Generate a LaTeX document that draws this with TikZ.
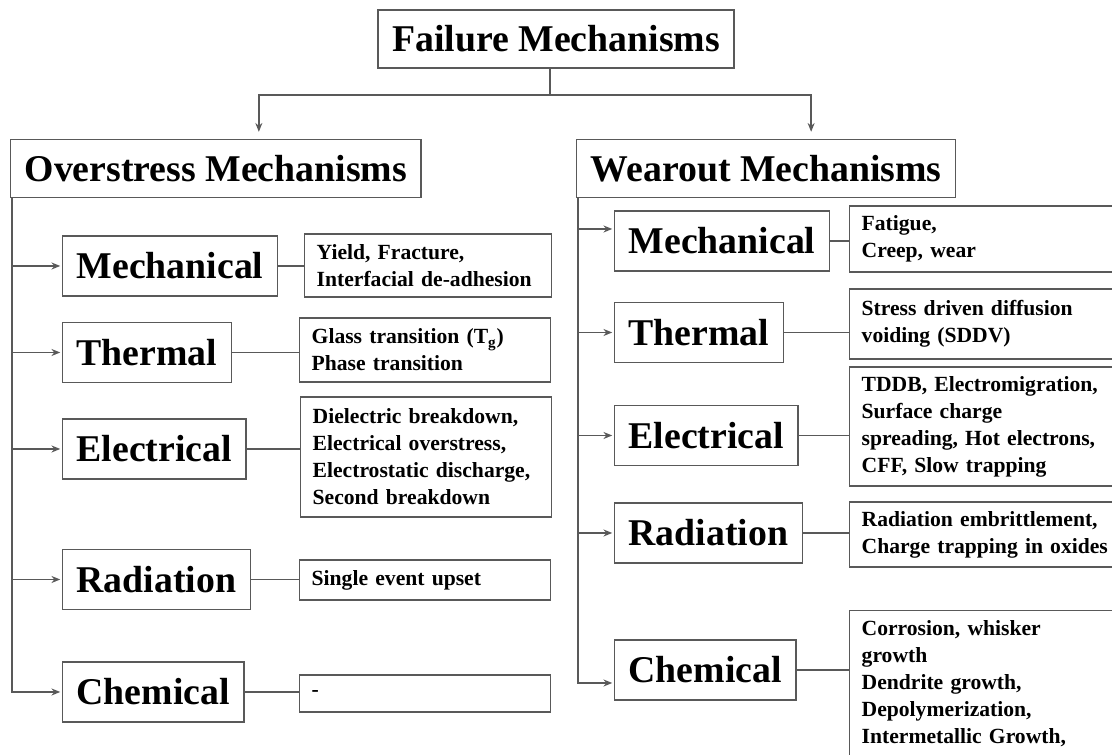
\documentclass[tikz,border=0pt]{standalone}
\usepackage{fontspec}
\setmainfont{Liberation Serif}
\usetikzlibrary{arrows.meta,calc}

\begin{document}
\begin{tikzpicture}[
    head/.style={draw=black!65, line width=0.8pt, font=\fontsize{21.5}{24}\selectfont\bfseries, inner xsep=0.28cm, minimum height=1.16cm},
    cat/.style={head, anchor=west, minimum height=1.2cm},
    desc/.style={draw=black!65, line width=0.8pt, font=\fontsize{12.3}{15.4}\selectfont\bfseries, align=left, inner xsep=0.24cm, anchor=west},
    ldesc/.style={desc, text width=4.54cm},
    rdesc/.style={desc, text width=5.3cm},
    link/.style={black!65, line width=0.8pt},
    arr/.style={link, -{Stealth[length=5pt,width=4pt]}, shorten >=1pt}]
  \path[use as bounding box, clip] (0,0) rectangle (22.24,15.1);
  \node[head] (fm) at (11.12,14.32) {Failure Mechanisms};
  \node[head, anchor=west] (os) at (0.2,11.73) {Overstress Mechanisms};
  \node[head, anchor=west] (wm) at (11.52,11.73) {Wearout Mechanisms};
  \coordinate (split) at (11.0,13.2);
  \draw[link] (split |- fm.south) -- (split);
  \draw[arr, shorten >=0.14cm] (split) -| ([xshift=0.86cm]os.north);
  \draw[arr, shorten >=0.14cm] (split) -| ([xshift=0.9cm]wm.north);
  % overstress side
  \node[cat] (lmech) at (1.24,9.78) {Mechanical};
  \node[cat] (lther) at (1.24,8.05) {Thermal};
  \node[cat] (lelec) at (1.24,6.12) {Electrical};
  \node[cat] (lrad) at (1.24,3.51) {Radiation};
  \node[cat] (lchem) at (1.24,1.26) {Chemical};
  \node[ldesc, text width=4.46cm, minimum height=1.26cm] (lmech-d) at (6.08,9.79) {Yield, Fracture,\\Interfacial de-adhesion};
  \node[ldesc, minimum height=1.28cm] (lther-d) at (5.98,8.1) {Glass transition (T\textsubscript{g})\\Phase transition};
  \node[ldesc, minimum height=2.4cm] (lelec-d) at (6.0,5.96) {Dielectric breakdown,\\Electrical overstress,\\Electrostatic discharge,\\Second breakdown};
  \node[ldesc, minimum height=0.8cm] (lrad-d) at (5.98,3.5) {Single event upset};
  \node[ldesc, minimum height=0.74cm] (lchem-d) at (5.98,1.23) {-};
  \coordinate (ltrunk) at ([xshift=0.04cm]os.south west);
  \draw[arr] (ltrunk) |- (lchem.west);
  \foreach \n in {lmech, lther, lelec, lrad} \draw[arr] (\n.west -| ltrunk) -- (\n.west);
  \foreach \n in {lmech, lther, lelec, lrad, lchem} \draw[link] (\n.east) -- (\n.east -| \n-d.west);
  % wearout side
  \node[cat] (rmech) at (12.28,10.28) {Mechanical};
  \node[cat] (rther) at (12.28,8.45) {Thermal};
  \node[cat] (relec) at (12.28,6.39) {Electrical};
  \node[cat] (rrad) at (12.28,4.44) {Radiation};
  \node[cat] (rchem) at (12.28,1.7) {Chemical};
  \node[rdesc, minimum height=1.32cm] (rmech-d) at (16.98,10.32) {Fatigue,\\Creep, wear};
  \node[rdesc, minimum height=1.4cm] (rther-d) at (16.98,8.62) {Stress driven diffusion\\voiding (SDDV)};
  \node[rdesc, minimum height=2.38cm] (relec-d) at (16.98,6.57) {TDDB, Electromigration,\\Surface charge\\spreading, Hot electrons,\\CFF, Slow trapping};
  \node[rdesc, minimum height=1.3cm] (rrad-d) at (16.98,4.41) {Radiation embrittlement,\\Charge trapping in oxides};
  \node[rdesc, anchor=north west, inner ysep=0.2cm] (rchem-d) at (16.98,2.9) {Corrosion, whisker\\growth\\Dendrite growth,\\Depolymerization,\\Intermetallic Growth,};
  \coordinate (rtrunk) at ([xshift=0.04cm]wm.south west);
  \draw[arr] (rtrunk) |- ([yshift=-0.26cm]rchem.west);
  \draw[arr] ([yshift=0.24cm]rmech.west -| rtrunk) -- ([yshift=0.24cm]rmech.west);
  \foreach \n in {rther, relec, rrad} \draw[arr] (\n.west -| rtrunk) -- (\n.west);
  \foreach \n in {rmech, rther, relec, rrad, rchem} \draw[link] (\n.east) -- (\n.east -| \n-d.west);
\end{tikzpicture}
\end{document}
